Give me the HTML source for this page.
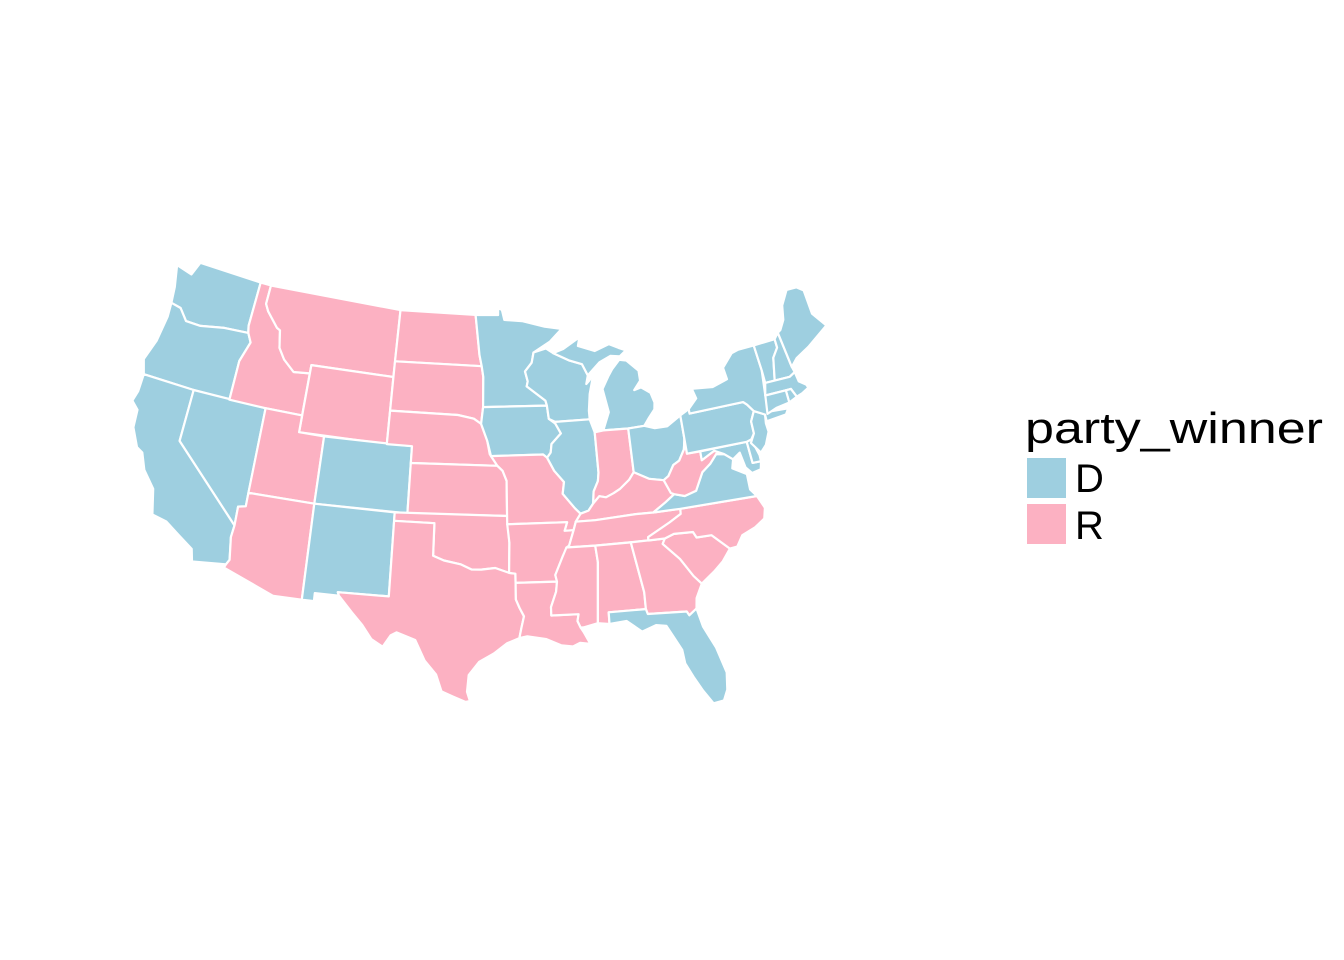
<!DOCTYPE html>
<html><head><meta charset="utf-8"><style>
html,body{margin:0;padding:0;background:#fff;}
svg{display:block;}
text{font-family:"Liberation Sans",Arial,sans-serif;fill:#000;}
</style></head><body>
<svg id="chart" width="1344" height="960" viewBox="0 0 1344 960" xmlns="http://www.w3.org/2000/svg">
<rect x="0" y="0" width="1344" height="960" fill="#fff"/>
<g id="states"></g>
<g id="legend">
<text x="1025" y="443" font-size="44" textLength="298" lengthAdjust="spacingAndGlyphs">party_winner</text>
<rect x="1027" y="458" width="39" height="40" fill="#9ecfe0"/>
<text x="1075" y="492" font-size="40">D</text>
<rect x="1027" y="504" width="39" height="40" fill="#fcb1c2"/>
<text x="1075" y="539" font-size="40">R</text>
</g>
</svg>
<script>
const stateNames = ["WA","OR","CA","NV","ID","MT","WY","UT","CO","AZ","NM","ND","SD","NE","KS","OK","TX","MN","IA","MO","AR","LA","WI","IL","MI","MI2","IN","OH","KY","TN","MS","AL","GA","FL","SC","NC","VA","WV","MD","DE","PA","NJ","NY","VT","NH","ME","MA","RI","CT"];
const stateWinners = ["D","D","D","D","R","R","R","R","D","R","D","R","R","R","R","R","R","D","D","R","R","R","D","D","D","D","R","D","R","R","R","R","R","D","R","R","D","R","D","D","D","D","D","D","D","D","D","D","D"];
const partyColors = {D:"#9ecfe0", R:"#fcb1c2"};
const stateShapes = [
[[-124.7,48.4],[-123.2,48.2],[-122.8,49],[-117.03,49],[-117.03,46.4],[-116.9,46],[-119,45.9],[-121,45.6],[-122.3,45.6],[-123.1,46.2],[-124,46.3],[-124.2,47.2]],
[[-124.2,42],[-120,42],[-117.03,42],[-117.03,44.3],[-116.5,45.5],[-116.9,46],[-119,45.9],[-121,45.6],[-122.3,45.6],[-123.1,46.2],[-124,46.3],[-123.9,45.5],[-124.1,44],[-124.6,42.8]],
[[-124.2,42],[-120,42],[-120,39],[-114.6,35],[-114.7,34.3],[-114.5,33],[-114.7,32.7],[-117.1,32.5],[-117.3,33.2],[-118.4,33.8],[-119.5,34.4],[-120.6,34.6],[-121,36],[-122,36.9],[-122.5,37.8],[-123,38],[-123.7,39],[-123.8,40],[-124.4,40.4],[-124.2,41]],
[[-120,42],[-114.04,42],[-114.04,36.2],[-114.6,36.1],[-114.6,35],[-120,39]],
[[-117.03,49],[-116.05,49],[-116.05,47.9],[-115.7,47.5],[-114.6,46.7],[-114.3,46.6],[-114,45.6],[-113.4,45],[-112.4,44.4],[-111.05,44.5],[-111.05,42],[-114.04,42],[-117.03,42],[-117.03,44.3],[-116.5,45.5],[-116.9,46],[-117.03,46.4]],
[[-116.05,49],[-104.05,49],[-104.05,45],[-111.05,45],[-111.05,44.5],[-112.4,44.4],[-113.4,45],[-114,45.6],[-114.3,46.6],[-114.6,46.7],[-115.7,47.5],[-116.05,47.9]],
[[-111.05,45],[-104.05,45],[-104.05,41],[-111.05,41]],
[[-114.04,42],[-111.05,42],[-111.05,41],[-109.05,41],[-109.05,37],[-114.04,37]],
[[-109.05,41],[-102.05,41],[-102.05,37],[-109.05,37]],
[[-114.04,37],[-109.05,37],[-109.05,31.33],[-111.07,31.33],[-114.8,32.5],[-114.7,32.7],[-114.5,33],[-114.7,34.3],[-114.6,35],[-114.6,36.1],[-114.04,36.2]],
[[-109.05,37],[-103,37],[-103,32],[-106.6,32],[-106.5,31.8],[-108.2,31.8],[-108.2,31.33],[-109.05,31.33]],
[[-104.05,49],[-97.2,49],[-96.8,46.6],[-96.6,45.94],[-104.05,45.94]],
[[-104.05,45.94],[-96.6,45.94],[-96.45,45.3],[-96.45,43.5],[-96.6,42.5],[-97.2,42.8],[-98.5,43],[-104.05,43]],
[[-104.05,43],[-98.5,43],[-97.2,42.8],[-96.6,42.5],[-96.1,41.5],[-95.9,40.7],[-95.3,40],[-102.05,40],[-102.05,41],[-104.05,41]],
[[-102.05,40],[-95.3,40],[-94.9,39.7],[-94.6,39.1],[-94.6,37],[-102.05,37]],
[[-103,37],[-94.6,37],[-94.45,35.4],[-94.5,33.6],[-95.5,33.9],[-96.5,33.8],[-97.2,33.8],[-98,34.1],[-99.2,34.3],[-100,34.56],[-100,36.5],[-103,36.5]],
[[-106.6,32],[-103,32],[-103,36.5],[-100,36.5],[-100,34.56],[-99.2,34.3],[-98,34.1],[-97.2,33.8],[-96.5,33.8],[-95.5,33.9],[-94.5,33.6],[-94.05,33.55],[-94.05,32],[-93.8,31.5],[-93.5,31],[-93.7,30.3],[-93.85,29.7],[-94.7,29.4],[-95.6,28.8],[-96.6,28.3],[-97.3,27.5],[-97.4,26.5],[-97.2,25.95],[-97.5,25.9],[-98.3,26.2],[-99.1,26.5],[-99.5,27.5],[-100.3,28.3],[-101,29.5],[-102.3,29.9],[-102.7,29.7],[-103.2,29],[-104,29.4],[-104.7,30.2],[-105.5,30.9],[-106.5,31.8]],
[[-97.2,49],[-95.15,49],[-95.15,49.4],[-94.8,49.3],[-94.6,48.7],[-93,48.6],[-91,48.2],[-89.5,48],[-90.6,47.3],[-92.1,46.7],[-92.3,46.1],[-92.9,45.6],[-92.7,45],[-92.8,44.7],[-91.3,43.8],[-91.2,43.5],[-96.45,43.5],[-96.45,45.3],[-96.6,45.94],[-96.8,46.6]],
[[-96.45,43.5],[-91.2,43.5],[-91.1,42.7],[-90.6,42.4],[-90.2,41.8],[-91,41.2],[-91.1,40.7],[-91.4,40.4],[-91.7,40.6],[-95.8,40.58],[-96.1,41.5],[-96.6,42.5]],
[[-95.8,40.58],[-91.7,40.6],[-91.4,40.4],[-90.9,39.6],[-90.2,38.9],[-90.35,38.2],[-89.5,37.3],[-89.1,36.95],[-89.5,36.5],[-89.7,36],[-90.37,36],[-90.15,36.5],[-94.6,36.5],[-94.6,39.1],[-94.9,39.7],[-95.3,40]],
[[-94.6,36.5],[-90.15,36.5],[-90.37,36],[-89.7,36],[-90.1,35.1],[-90.6,34.5],[-91.2,33.4],[-91.1,33],[-94.05,33],[-94.05,33.55],[-94.5,33.6],[-94.45,35.4]],
[[-94.05,33],[-91.1,33],[-91.2,32.4],[-91.6,31.5],[-91.6,31],[-89.7,31],[-89.8,30.6],[-89.6,30.2],[-89.4,29.9],[-89,29.2],[-89.7,29.3],[-90.2,29.1],[-91,29.2],[-92,29.6],[-93.3,29.8],[-93.85,29.7],[-93.7,30.3],[-93.5,31],[-93.8,31.5],[-94.05,32]],
[[-92.9,45.6],[-92.3,46.1],[-92.1,46.7],[-91,46.9],[-90.4,46.6],[-89.1,46.1],[-88,45.8],[-87.6,45.1],[-87.8,44.6],[-87.5,44.8],[-87.1,45.2],[-87.6,44],[-87.8,43],[-87.8,42.5],[-90.6,42.5],[-91.1,42.7],[-91.2,43.5],[-91.3,43.8],[-92.8,44.7],[-92.7,45]],
[[-90.6,42.5],[-87.8,42.5],[-87.5,41.7],[-87.5,39.3],[-87.6,38.8],[-88,38.2],[-88.1,37.5],[-88.5,37.1],[-89.1,36.95],[-89.5,37.3],[-90.35,38.2],[-90.2,38.9],[-90.9,39.6],[-91.4,40.4],[-91.1,40.7],[-91,41.2],[-90.2,41.8],[-90.6,42.4]],
[[-86.8,41.76],[-84.8,41.7],[-83.5,41.73],[-83.1,42.1],[-82.5,42.6],[-82.4,43],[-82.6,43.6],[-83.3,44],[-83.9,43.9],[-83.3,44.4],[-83.3,45],[-84.2,45.7],[-84.8,45.8],[-85.5,45.3],[-85.9,44.9],[-86.5,44.2],[-86.2,42.8]],
[[-90.4,46.6],[-89.1,46.1],[-88,45.8],[-87.6,45.1],[-86.5,45.8],[-85.5,46.1],[-84.7,46],[-84.1,46.3],[-84.7,46.5],[-85.5,46.8],[-86.8,46.5],[-88.2,46.9],[-88,47.4],[-89.5,46.8]],
[[-87.5,41.7],[-86.8,41.76],[-84.8,41.7],[-84.8,39.1],[-85.2,38.7],[-86,38.2],[-86.5,38],[-87.1,37.8],[-87.6,37.9],[-88.1,37.5],[-88,38.2],[-87.6,38.8],[-87.5,39.3]],
[[-84.8,41.7],[-83.5,41.73],[-82.7,41.5],[-81.7,41.5],[-80.52,42],[-80.52,40.6],[-80.7,40],[-81.2,39.4],[-81.7,39.2],[-82.2,38.6],[-82.6,38.4],[-83.7,38.6],[-84.8,39.1]],
[[-89.1,36.95],[-88.5,37.1],[-88.1,37.5],[-87.6,37.9],[-87.1,37.8],[-86.5,38],[-86,38.2],[-85.2,38.7],[-84.8,39.1],[-83.7,38.6],[-82.6,38.4],[-82.2,37.6],[-81.97,37.5],[-82.7,37.1],[-83.7,36.6],[-85,36.63],[-88.05,36.5],[-89.5,36.5]],
[[-90.1,35.1],[-89.7,36],[-89.5,36.5],[-88.05,36.5],[-85,36.63],[-83.7,36.6],[-81.68,36.6],[-81.7,36.3],[-82.6,35.9],[-84.3,35.2],[-84.3,35],[-88.2,35],[-90.3,35]],
[[-91.1,33],[-91.2,33.4],[-90.6,34.5],[-90.3,35],[-88.2,35],[-88.1,34],[-88.4,30.4],[-89.4,30.2],[-89.6,30.2],[-89.8,30.6],[-89.7,31],[-91.6,31],[-91.6,31.5],[-91.2,32.4]],
[[-88.2,35],[-85.6,35],[-85,32],[-85,31],[-87.6,31],[-87.6,30.3],[-88.4,30.4],[-88.1,34]],
[[-85.6,35],[-83.1,35],[-83.3,34.7],[-82.2,33.7],[-81.4,32.6],[-80.9,32.1],[-81.4,31.3],[-81.5,30.7],[-82.05,30.36],[-82.2,30.6],[-84.9,30.7],[-85,31],[-85,32]],
[[-87.6,31],[-85,31],[-84.9,30.7],[-82.2,30.6],[-82.05,30.36],[-81.5,30.7],[-81.2,29.6],[-80.5,28.3],[-80,26.8],[-80.1,25.8],[-80.4,25.2],[-81.1,25.1],[-81.7,25.9],[-82.2,26.7],[-82.7,27.6],[-82.8,28.4],[-83.7,29.9],[-84.4,30],[-85.4,29.7],[-86.4,30.4],[-87.6,30.3]],
[[-83.3,34.7],[-82.2,33.7],[-81.4,32.6],[-80.9,32.1],[-79.9,32.7],[-79.2,33.2],[-78.55,33.86],[-79.7,34.8],[-80.8,34.8],[-81,35.15],[-82.4,35.2],[-83.1,35]],
[[-84.3,35],[-84.3,35.2],[-82.6,35.9],[-81.7,36.3],[-81.68,36.6],[-75.9,36.55],[-75.5,35.8],[-75.7,35.2],[-76.5,34.8],[-77.5,34.5],[-78,33.9],[-78.55,33.86],[-79.7,34.8],[-80.8,34.8],[-81,35.15],[-82.4,35.2],[-83.1,35]],
[[-83.7,36.6],[-82.7,37.1],[-81.97,37.5],[-81.2,37.3],[-80.3,37.5],[-79.6,38.5],[-78.9,38.9],[-78.3,39.4],[-77.7,39.3],[-77.1,38.9],[-77.3,38.4],[-76.3,37.9],[-76.3,37],[-75.9,36.55],[-81.68,36.6]],
[[-82.6,38.4],[-82.2,38.6],[-81.7,39.2],[-81.2,39.4],[-80.7,40],[-80.52,40.6],[-80.52,39.72],[-79.48,39.72],[-79.48,39.2],[-78.4,39.6],[-77.7,39.3],[-78.3,39.4],[-78.9,38.9],[-79.6,38.5],[-80.3,37.5],[-81.2,37.3],[-81.97,37.5],[-82.2,37.6]],
[[-79.48,39.72],[-75.79,39.72],[-75.7,38.46],[-75.05,38.45],[-75.2,38.0],[-75.9,37.9],[-76.3,38.3],[-76.5,39.2],[-77.1,38.9],[-77.7,39.3],[-78.4,39.6],[-79.48,39.2]],
[[-75.79,39.72],[-75.4,39.8],[-75.05,38.8],[-75.05,38.45],[-75.7,38.46]],
[[-80.52,42],[-79.76,42.27],[-79.76,42],[-75.36,42],[-75.1,41.8],[-74.7,41.35],[-75.1,40.8],[-75.1,40.1],[-75.4,39.8],[-75.79,39.72],[-80.52,39.72]],
[[-74.7,41.35],[-73.9,41],[-74,40.5],[-73.95,40],[-74.4,39.3],[-74.9,38.93],[-75.5,39.6],[-75.1,40.1],[-75.1,40.8]],
[[-79.76,42],[-79.76,42.27],[-79,42.8],[-79.2,43.4],[-77.5,43.25],[-76.2,43.5],[-76.3,44.2],[-75.3,44.9],[-74.7,45],[-73.34,45],[-73.25,43.5],[-73.5,42.05],[-73.5,41.1],[-72,41],[-72.3,40.7],[-73.9,40.6],[-73.9,41],[-74.7,41.35],[-75.1,41.8],[-75.36,42]],
[[-73.34,45],[-71.5,45],[-71.5,44.5],[-72.05,44],[-72.45,42.73],[-73.25,42.75],[-73.25,43.5]],
[[-71.5,45],[-71.08,45.3],[-70.8,43.2],[-70.7,42.87],[-71.2,42.7],[-72.45,42.73],[-72.05,44],[-71.5,44.5]],
[[-71.08,45.3],[-70.8,43.2],[-70.2,43.6],[-69,44],[-68,44.4],[-67,44.8],[-67.8,45.7],[-67.8,47.1],[-68.3,47.4],[-69.2,47.45],[-70,46.7],[-70.3,45.9],[-70.8,45.4]],
[[-73.5,42.05],[-73.25,42.75],[-72.45,42.73],[-71.2,42.7],[-70.7,42.87],[-70.6,42.3],[-70.1,42],[-70,41.8],[-70.6,41.6],[-71.1,41.5],[-71.38,42.02],[-71.8,42.02]],
[[-71.8,42.02],[-71.38,42.02],[-71.1,41.5],[-71.8,41.3]],
[[-73.5,42.05],[-71.8,42.02],[-71.8,41.3],[-72.9,41.2],[-73.7,41]]
];
// polyconic projection
const LON0 = -95.8, K = 960, X0 = 491, Y49 = 315;
function project(lon, lat){
  const d = Math.PI/180;
  const phi = lat*d, dl = (lon-LON0)*d;
  const E = dl*Math.sin(phi), cot = 1/Math.tan(phi);
  const x = cot*Math.sin(E);
  const y = (phi - 49*d) + cot*(1-Math.cos(E));
  return [X0 + K*x, Y49 - K*y];
}
const g = document.getElementById('states');
const NS = "http://www.w3.org/2000/svg";
stateShapes.forEach((poly, i) => {
  const p = document.createElementNS(NS, 'path');
  const dStr = poly.map((pt, j) => { const q = project(pt[0], pt[1]); return (j ? 'L' : 'M') + q[0].toFixed(1) + ',' + q[1].toFixed(1); }).join('') + 'Z';
  p.setAttribute('d', dStr);
  p.setAttribute('fill', partyColors[stateWinners[i]]);
  p.setAttribute('stroke', '#fff');
  p.setAttribute('stroke-width', '2.2');
  p.setAttribute('stroke-linejoin', 'round');
  
  
  g.appendChild(p);
});
</script>
</body></html>
